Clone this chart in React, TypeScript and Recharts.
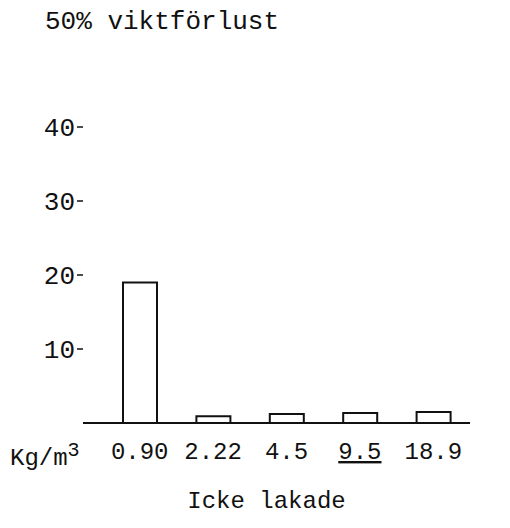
import React from 'react';
import { BarChart, Bar, XAxis, YAxis, Label } from 'recharts';

const densities = ['0.90', '2.22', '4.5', '9.5', '18.9'];
const weightLoss = [19, 0.9, 1.2, 1.35, 1.5];
const yTicks = [10, 20, 30, 40];

const data = densities.map((d, i) => ({ name: d, value: weightLoss[i] }));

const font = '"Liberation Mono", "DejaVu Sans Mono", monospace';

const DensityTick = (props: any) => {
  const { x, y, payload } = props;
  return (
    <text
      x={x}
      y={y}
      dy={28}
      textAnchor="middle"
      fontFamily={font}
      fontSize={24}
      fill="#111"
      textDecoration={payload.value === '9.5' ? 'underline' : undefined}
    >
      {payload.value}
    </text>
  );
};

export default function App() {
  return (
    <div style={{ position: 'absolute', left: 0, top: 0, width: 510, height: 528, background: '#fff' }}>
      <div
        style={{
          position: 'absolute',
          left: 45,
          top: 8,
          fontFamily: font,
          fontSize: 26,
          lineHeight: '28px',
          color: '#111',
          whiteSpace: 'pre',
        }}
      >
        50% viktförlust
      </div>
      <div
        style={{
          position: 'absolute',
          left: 10,
          top: 445,
          fontFamily: font,
          fontSize: 24,
          lineHeight: '28px',
          color: '#111',
        }}
      >
        Kg/m<sup style={{ fontSize: 20, lineHeight: 0 }}>3</sup>
      </div>
      <BarChart
        width={510}
        height={528}
        data={data}
        margin={{ top: 53, right: 40, left: 0, bottom: 0 }}
        barSize={34}
      >
        <XAxis
          dataKey="name"
          height={105}
          padding={{ left: 20, right: 0 }}
          axisLine={{ stroke: '#111', strokeWidth: 2 }}
          tickLine={false}
          tick={<DensityTick />}
          interval={0}
        >
          <Label
            value="Icke lakade"
            position="insideBottom"
            offset={20}
            dx={-10}
            style={{ fontFamily: font, fontSize: 24, fill: '#111' }}
          />
        </XAxis>
        <YAxis
          width={83}
          domain={[0, 50]}
          ticks={yTicks}
          axisLine={false}
          tickSize={6}
          tickMargin={2}
          tickLine={{ stroke: '#111', strokeWidth: 1.5 }}
          tick={{ fontFamily: font, fontSize: 26, fill: '#111' }}
        />
        <Bar dataKey="value" fill="#fff" stroke="#111" strokeWidth={2} isAnimationActive={false} />
      </BarChart>
    </div>
  );
}
